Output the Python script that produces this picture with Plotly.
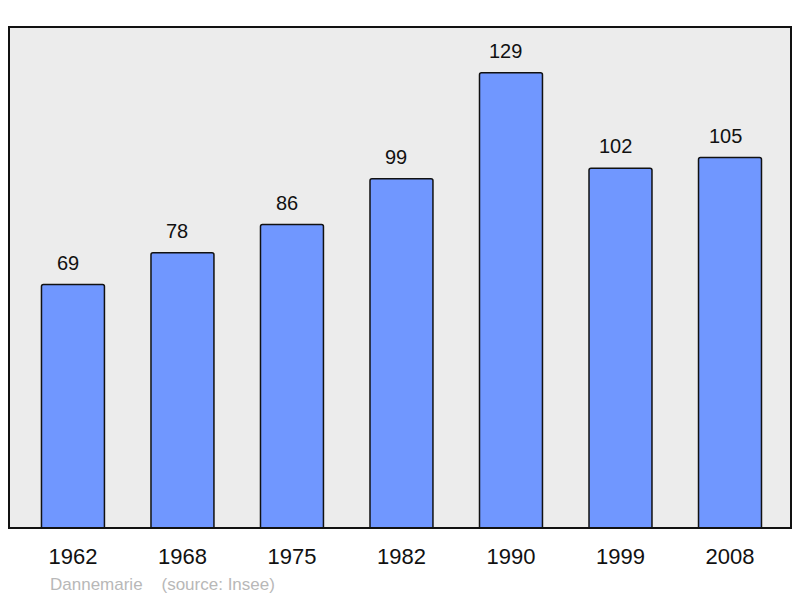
import plotly.graph_objects as go

years = ['1962', '1968', '1975', '1982', '1990', '1999', '2008']
population = [69, 78, 86, 99, 129, 102, 105]
commune = 'Dannemarie'
source_note = '(source: Insee)'

fig = go.Figure()

fig.add_trace(go.Bar(
    x=years, y=population,
    width=0.575,
    marker=dict(color='#7097ff', line=dict(color='#111111', width=1.5), cornerradius=2),
    hoverinfo='x+y',
    showlegend=False,
))

# value labels above bars (category index as x, numeric-looking names confuse the axis)
for i, val in enumerate(population):
    fig.add_annotation(
        x=i, y=val, text=str(val), showarrow=False,
        yanchor='middle', yshift=22, xshift=-5,
        font=dict(family='Liberation Sans, Arial', size=20, color='#111111'),
    )

# frame around plot area
fig.add_shape(type='rect', xref='paper', yref='paper', x0=0, y0=0, x1=1, y1=1,
              line=dict(color='#111111', width=2), layer='above')

fig.add_annotation(
    xref='paper', yref='paper', x=0.05, y=-0.112, xanchor='left', yanchor='middle',
    text=f'{commune}&nbsp;&nbsp;&nbsp;&nbsp;{source_note}', showarrow=False,
    font=dict(family='Liberation Sans, Arial', size=17, color='#b8b8b8'),
)

fig.update_xaxes(
    type='category',
    range=[-0.584, 6.557], showgrid=False, zeroline=False, ticks='',
    tickfont=dict(family='Liberation Sans, Arial', size=22, color='#111111'),
    ticklabelstandoff=13,
)
fig.update_yaxes(range=[0, 142], showgrid=False, zeroline=False,
                 showticklabels=False, ticks='')

fig.update_layout(
    width=800, height=598,
    margin=dict(l=9, r=9, t=27, b=70),
    paper_bgcolor='white',
    plot_bgcolor='#ececec',
    bargap=0.4,
)

fig.write_html('out.html', config={'displayModeBar': False},
               post_script="document.body.style.margin='0';")
